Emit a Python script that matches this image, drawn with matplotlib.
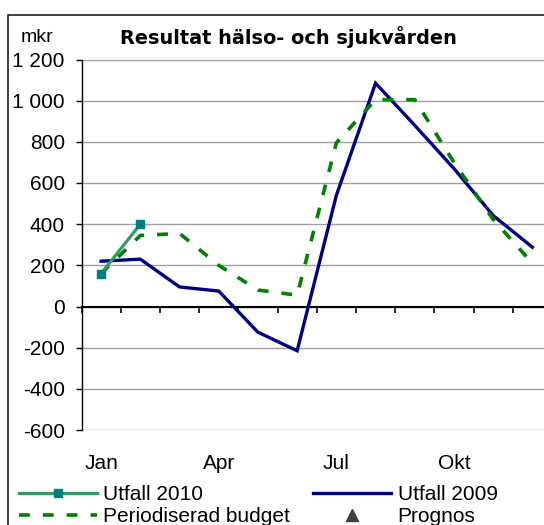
import numpy as np
import matplotlib.pyplot as plt
from matplotlib.lines import Line2D
from matplotlib.patches import Rectangle

plt.rcParams['font.family'] = ['Liberation Sans', 'DejaVu Sans']

# data (mkr per manad)
months = ['Jan', 'Feb', 'Mar', 'Apr', 'Maj', 'Jun', 'Jul', 'Aug', 'Sep', 'Okt', 'Nov', 'Dec']
month_labels = ['Jan', '', '', 'Apr', '', '', 'Jul', '', '', 'Okt', '', '']
utfall_2010 = [160, 400]
utfall_2009 = [220, 230, 95, 75, -125, -215, 540, 1085, 880, 670, 442, 288]
budget = [160, 345, 355, 200, 80, 55, 795, 1005, 1005, 700, 423, 210]
prognos = []
yticks = [-600, -400, -200, 0, 200, 400, 600, 800, 1000, 1200]

W, H = 544, 525
fig = plt.figure(figsize=(W/100, H/100), dpi=100)

# yttre ram
fig.patches.append(Rectangle((7.5/W, -0.1), 1.2, 1.1 - 15/H, transform=fig.transFigure,
                             fill=False, edgecolor='#202020', linewidth=1.2))

ax = fig.add_axes([81.5/W, 1 - 430/H, 470.5/W, 370.5/H])
x = np.arange(len(months))

ax.plot(x, utfall_2009, color='#000080', lw=2.4, solid_joinstyle='miter', zorder=3)
ax.plot(x, budget, color='#008000', lw=2.6, dashes=(3.0, 3.6), zorder=4)
ax.plot(x[:len(utfall_2010)], utfall_2010, color='#339966', lw=2.3, marker='s', ms=5.5,
        mfc='#008080', mec='#008080', zorder=5)
ax.plot(x[:len(prognos)], prognos, ls='none', marker='^', color='#404040', ms=9)

ax.set_xlim(-0.5, 11.5)
ax.set_ylim(-600, 1200)
ax.set_yticks(yticks)
ax.set_yticklabels([f'{v:,}'.replace(',', ' ') for v in yticks])
ax.grid(axis='y', color='#a0a0a0', lw=1.0)
ax.set_axisbelow(True)

for s in ['top', 'right']:
    ax.spines[s].set_visible(False)
ax.spines['left'].set_color('black')
ax.spines['left'].set_linewidth(1.0)
ax.spines['bottom'].set_position(('data', 0))
ax.spines['bottom'].set_color('black')
ax.spines['bottom'].set_linewidth(1.5)
ax.spines['bottom'].set_zorder(2.5)

ax.set_xticks(np.arange(13) - 0.5)
ax.set_xticklabels([])
ax.tick_params(axis='x', direction='out', length=4, width=1.2, color='black')
ax.tick_params(axis='y', direction='out', length=4, width=1.0, color='black',
               labelsize=15, pad=8)

# manadsetiketter under diagrammet
sec = ax.secondary_xaxis(0)
sec.set_xticks(x)
sec.set_xticklabels(month_labels)
sec.tick_params(length=0, labelsize=15, pad=17)
sec.spines['bottom'].set_visible(False)

fig.text(37/W, 1 - 37/H, 'mkr', fontsize=14, ha='center', va='center')
fig.text(288.5/W, 1 - 37/H, 'Resultat hälso- och sjukvården', family='DejaVu Sans',
         fontweight='bold', fontsize=13.9, ha='center', va='center')

handles = [
    Line2D([], [], color='#339966', lw=2.3, marker='s', ms=5.5, mfc='#008080', mec='#008080'),
    Line2D([], [], color='#008000', lw=2.6, dashes=(3.0, 3.6)),
    Line2D([], [], color='#000080', lw=2.4),
    Line2D([], [], ls='none', marker='^', color='#404040', ms=9),
]
labels = ['Utfall 2010', 'Periodiserad budget', 'Utfall 2009', 'Prognos']
fig.legend(handles, labels, ncol=2, loc='upper left', bbox_to_anchor=(19/W, 1 - 485/H),
           frameon=False, fontsize=15, borderpad=0, borderaxespad=0, handlelength=3.75,
           handletextpad=0.3, columnspacing=1.1, labelspacing=0.15, numpoints=1)

fig.savefig('out.png', dpi=100)
